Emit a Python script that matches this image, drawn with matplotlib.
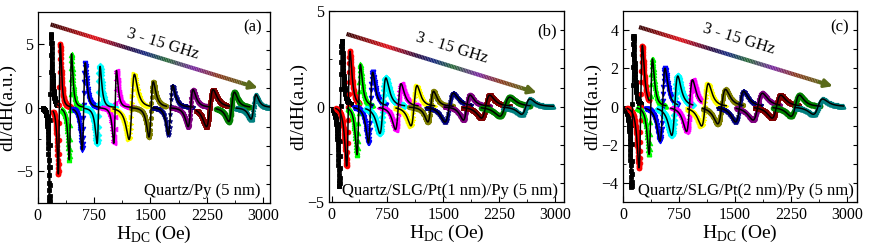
import numpy as np
import matplotlib
matplotlib.use('Agg')
import matplotlib.pyplot as plt
from matplotlib.collections import LineCollection
from matplotlib.colors import LinearSegmentedColormap
from matplotlib.ticker import MultipleLocator

plt.rcParams['font.family'] = ['Liberation Serif', 'DejaVu Serif']
plt.rcParams['mathtext.fontset'] = 'custom'
plt.rcParams['mathtext.rm'] = 'Liberation Serif'

# colours / markers of the 13 frequencies (3 ... 15 GHz)
colors = ['#000000', '#ff0000', '#00ff00', '#0000ff', '#00ffff', '#ff00ff', '#ffff00',
          '#808000', '#000080', '#800080', '#800000', '#008000', '#008080']
markers = ['s', 'o', '^', 'v', 'D', '<', '>', 'h', '*', 'p', 's', 'o', '^']

# read off the picture: field of minimum / maximum, min / max value, measured window
# panel (a) Quartz/Py (5 nm)
a_hmin = [155, 274, 420, 593, 792, 1013, 1217, 1478, 1735, 2000, 2243, 2544, 2841]
a_hmax = [177, 301, 451, 633, 832, 1049, 1288, 1535, 1792, 2066, 2332, 2619, 2907]
a_ymin = [-7.2, -5.2, -4.1, -3.3, -2.8, -2.8, -2.5, -2.3, -2.1, -1.5, -1.5, -1.1, -0.9]
a_ymax = [5.6, 5.0, 4.2, 3.5, 3.2, 2.9, 2.6, 2.0, 1.7, 1.4, 1.4, 1.2, 1.0]
a_start = [66, 208, 319, 473, 628, 827, 1004, 1248, 1535, 1779, 2111, 2376, 2642]
a_end = [274, 438, 606, 827, 1027, 1248, 1491, 1712, 2066, 2288, 2553, 2819, 3084]

# panel (b) Quartz/SLG/Pt(1 nm)/Py (5 nm)
b_hmin = [103, 202, 341, 494, 651, 858, 1069, 1293, 1518, 1765, 2012, 2259, 2551]
b_hmax = [135, 247, 386, 552, 732, 934, 1150, 1370, 1630, 1855, 2124, 2393, 2663]
b_ymin = [-4.1, -3.1, -2.5, -1.9, -1.4, -1.2, -1.0, -0.8, -0.8, -0.7, -0.6, -0.5, -0.4]
b_ymax = [3.4, 2.9, 2.2, 1.8, 1.5, 1.2, 1.1, 0.8, 0.7, 0.6, 0.6, 0.5, 0.4]
b_start = [20, 58, 216, 305, 462, 642, 867, 1046, 1271, 1518, 1765, 2012, 2304]
b_end = [260, 373, 552, 732, 979, 1159, 1383, 1630, 1877, 2124, 2393, 2663, 2977]

# panel (c) Quartz/SLG/Pt(2 nm)/Py (5 nm)
c_hmin = [108, 211, 346, 495, 652, 850, 1057, 1268, 1507, 1741, 1997, 2258, 2550]
c_hmax = [135, 256, 391, 562, 733, 931, 1147, 1372, 1615, 1867, 2114, 2370, 2676]
c_ymin = [-4.2, -3.2, -2.5, -1.8, -1.5, -1.3, -1.0, -0.9, -0.8, -0.7, -0.6, -0.5, -0.4]
c_ymax = [3.7, 3.2, 2.5, 2.0, 1.6, 1.4, 1.2, 0.9, 0.8, 0.7, 0.6, 0.6, 0.4]
c_start = [10, 54, 189, 301, 459, 639, 864, 1066, 1268, 1516, 1763, 2011, 2303]
c_end = [234, 346, 571, 729, 931, 1044, 1381, 1606, 1853, 2101, 2357, 2640, 2955]


def fmr(H, hmin, hmax, ymin, ymax):
    # derivative of a Lorentzian (antisymmetric + small symmetric part)
    hr = (hmin + hmax) / 2
    dh = (hmax - hmin) * np.sqrt(3) / 2
    u = (H - hr) / dh
    A = (ymax - ymin) / 2
    B = (ymax + ymin) / (2 * 0.375)
    return A * u / (u**2 + 1)**2 / 0.3248 + B * (1 - u**2) / (u**2 + 1)**2


arrow_cmap = LinearSegmentedColormap.from_list('arr', [
    (0.0, '#3a0808'), (0.22, '#e01018'), (0.38, '#301040'), (0.47, '#1a2a80'),
    (0.58, '#2a6a3a'), (0.72, '#7a2aa0'), (0.84, '#8a3a20'), (1.0, '#5a6a1a')])

panels = [
    dict(hmin=a_hmin, hmax=a_hmax, ymin=a_ymin, ymax=a_ymax, start=a_start, end=a_end,
         pos=[0.0432, 0.1835, 0.2664, 0.7695], xlim=(0, 3090), ylim=(-7.5, 7.5),
         yticks=[-5, 0, 5], yminor=2.5, rminor=1.5,
         arrow=((173, 6.5), (2928, 1.53)), gtxt=(1667, 5.0), lab='(a)', labpos=(2863, 6.3),
         sample='Quartz/Py (5 nm)', spos=(2960, -6.5)),
    dict(hmin=b_hmin, hmax=b_hmax, ymin=b_ymin, ymax=b_ymax, start=b_start, end=b_end,
         pos=[0.3776, 0.1876, 0.2692, 0.7682], xlim=(-30, 3120), ylim=(-5, 5),
         yticks=[-5, 0, 5], yminor=2.5, rminor=1.0,
         arrow=((202, 3.8), (2753, 0.73)), gtxt=(1608, 3.08), lab='(b)', labpos=(2897, 3.95),
         sample='Quartz/SLG/Pt(1 nm)/Py (5 nm)', spos=(3045, -4.4)),
    dict(hmin=c_hmin, hmax=c_hmax, ymin=c_ymin, ymax=c_ymax, start=c_start, end=c_end,
         pos=[0.7148, 0.1876, 0.2683, 0.7682], xlim=(0, 3140), ylim=(-5, 5),
         yticks=[-4, -2, 0, 2, 4], yminor=1.0, rminor=1.0,
         arrow=((211, 4.16), (2811, 1.07)), gtxt=(1552, 3.55), lab='(c)', labpos=(2901, 4.16),
         sample='Quartz/SLG/Pt(2 nm)/Py (5 nm)', spos=(3099, -4.42)),
]

fig = plt.figure(figsize=(8.72, 2.49), dpi=100)

for p in panels:
    ax = fig.add_axes(p['pos'])
    for i in range(13):
        H = np.linspace(p['start'][i], p['end'][i], 110)
        y = fmr(H, p['hmin'][i], p['hmax'][i], p['ymin'][i], p['ymax'][i])
        ax.plot(H, y, ls='none', marker=markers[i], ms=3.4, mec=colors[i], mfc=colors[i],
                mew=0.6, zorder=2)
        Hf = np.linspace(p['start'][i], p['end'][i], 300)
        ax.plot(Hf, fmr(Hf, p['hmin'][i], p['hmax'][i], p['ymin'][i], p['ymax'][i]),
                color='black', lw=1.1, zorder=3)

    # gradient arrow
    (x0, y0), (x1, y1) = p['arrow']
    n = 120
    t = np.linspace(0, 0.96, n + 1)
    xs = x0 + (x1 - x0) * t
    ys = y0 + (y1 - y0) * t
    segs = np.stack([np.column_stack([xs[:-1], ys[:-1]]), np.column_stack([xs[1:], ys[1:]])], axis=1)
    lc = LineCollection(segs, colors=arrow_cmap(t[:-1] / 0.96), linewidths=3.0,
                        capstyle='butt', zorder=4)
    ax.add_collection(lc)
    ax.annotate('', xy=(x1, y1), xytext=(x0 + (x1 - x0) * 0.93, y0 + (y1 - y0) * 0.93),
                arrowprops=dict(arrowstyle='-|>,head_length=0.5,head_width=0.25',
                                color='#5a6a1a', lw=2.2, shrinkA=0, shrinkB=0), zorder=5)
    ax.text(p['gtxt'][0], p['gtxt'][1], '3 - 15 GHz', rotation=-17, fontsize=12,
            ha='center', va='center', rotation_mode='anchor')

    ax.text(p['labpos'][0], p['labpos'][1], p['lab'], fontsize=12, ha='center', va='center')
    ax.text(p['spos'][0], p['spos'][1], p['sample'], fontsize=12, ha='right', va='center')

    ax.set_xlim(*p['xlim'])
    ax.set_ylim(*p['ylim'])
    ax.set_xticks([0, 750, 1500, 2250, 3000])
    ax.xaxis.set_minor_locator(MultipleLocator(375))
    ax.set_yticks(p['yticks'])
    ax.yaxis.set_minor_locator(MultipleLocator(p['yminor']))
    ax.tick_params(which='both', direction='in', labelsize=11.5, top=False, right=False)
    ax.tick_params(which='major', length=4)
    ax.tick_params(which='minor', length=2.5)

    rax = ax.secondary_yaxis('right')
    rax.yaxis.set_major_locator(MultipleLocator(p['rminor']))
    rax.tick_params(direction='in', length=3, labelright=False)

    for s in ax.spines.values():
        s.set_linewidth(0.9)
    ax.set_xlabel(r'H$_{\mathrm{DC}}$ (Oe)', fontsize=14, labelpad=0)
    ax.set_ylabel('dI/dH(a.u.)', fontsize=14, labelpad=0)

fig.savefig('out.png', dpi=100)
